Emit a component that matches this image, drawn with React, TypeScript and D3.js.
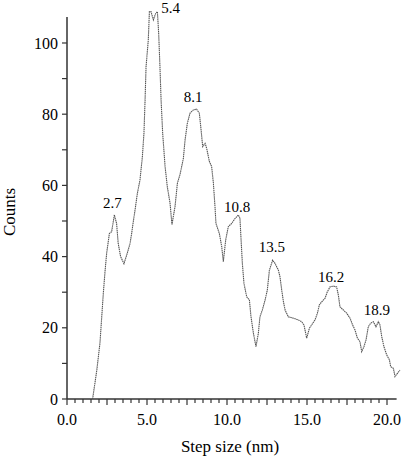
import React, { useEffect, useRef } from "react";
import * as d3 from "d3";

// step size histogram
const stepSize = [
  1.6, 1.86, 2.06, 2.17, 2.27, 2.38, 2.48, 2.65, 2.79, 2.96, 3.1, 3.2, 3.35, 3.56, 3.77, 3.94, 4.04, 4.15, 4.25,
  4.4, 4.56, 4.71, 4.81, 4.88, 4.94, 5.08, 5.15, 5.25, 5.4, 5.54, 5.65, 5.73, 5.81, 5.88, 5.98, 6.13, 6.27, 6.44,
  6.56, 6.75, 6.9, 7.06, 7.27, 7.38, 7.52, 7.69, 7.9, 8.1, 8.27, 8.38, 8.48, 8.63, 8.73, 8.9, 9.04, 9.15, 9.25,
  9.31, 9.52, 9.67, 9.77, 9.92, 10.08, 10.29, 10.5, 10.71, 10.81, 10.88, 10.96, 11.06, 11.23, 11.4, 11.5, 11.65,
  11.81, 11.96, 12.06, 12.21, 12.38, 12.52, 12.65, 12.85, 13.0, 13.21, 13.31, 13.42, 13.52, 13.63, 13.83, 14.15,
  14.46, 14.67, 14.81, 14.98, 15.15, 15.29, 15.5, 15.65, 15.77, 15.92, 16.13, 16.27, 16.44, 16.65, 16.85, 16.96,
  17.06, 17.27, 17.48, 17.69, 17.85, 18.0, 18.15, 18.31, 18.42, 18.56, 18.69, 18.83, 18.98, 19.15, 19.31, 19.46,
  19.56, 19.67, 19.81, 19.98, 20.15, 20.23, 20.4, 20.5, 20.65, 20.81,
];
const counts = [
  0, 8, 15.7, 23, 29.7, 36, 41, 46.5, 47, 51.7, 49.3, 43.7, 40, 38, 41, 43.7, 46.5, 50, 53,
  57.8, 61.5, 68, 74.7, 84, 93.3, 100.8, 108.8, 108.8, 106.5, 108.3, 108.8, 102.7, 93.3, 84, 74.6, 65.3, 59.6, 55,
  49, 54, 60.6, 63, 67.5, 72.8, 77.4, 80.3, 81.2, 81.4, 80.3, 75.6, 70.9, 71.8, 70.4, 66.7, 65.3, 60.6, 54,
  49.3, 46.5, 42.8, 38.6, 44.7, 48.4, 49.3, 50.7, 51.7, 50.7, 44.7, 38.1, 32.5, 28.7, 27.8, 23.1, 18.5,
  14.7, 18.5, 23.1, 25, 27.8, 30.6, 36.2, 39, 38.1, 36.2, 34.4, 30.6, 27.5, 25, 23.1, 22.7,
  22.2, 21.7, 20.8, 17.1, 19.9, 20.8, 22.2, 24.1, 26.4, 27.3, 28.3, 30.1, 31.5, 31.7, 31.5, 29.2,
  25.9, 25, 24.1, 22.7, 20.8, 19.4, 17.1, 16.1, 13.3, 14.7, 16.6, 20.3, 21.3, 21.7, 20.3, 21.7,
  20.8, 17.5, 14.7, 12.4, 11, 9.1, 8.6, 6.3, 7.2, 8.1,
];

// peak annotations (label text, anchor in data units)
const peakLabels = ["2.7", "5.4", "8.1", "10.8", "13.5", "16.2", "18.9"];
const peakLabelX = [2.84, 6.47, 7.88, 10.63, 12.8, 16.5, 19.36];
const peakLabelY = [53.7, 108.3, 83.4, 52.5, 41.3, 32.9, 23.6];

const yTicks = [0, 10, 20, 30, 40, 50, 60, 70, 80, 90, 100];
const yTickLabels = [0, 20, 40, 60, 80, 100];
const xTickLabels = [0, 5, 10, 15, 20];

export default function App() {
  const ref = useRef<SVGSVGElement>(null);

  useEffect(() => {
    const svg = d3.select(ref.current);
    svg.selectAll("*").remove();

    const font = "'Liberation Serif', 'Times New Roman', serif";
    const x = d3.scaleLinear().domain([0, 20.6]).range([67, 396.6]);
    const y = d3.scaleLinear().domain([0, 107.3]).range([399, 17]);

    const axisColor = "#333";

    // y axis
    const yAxis = svg.append("g");
    yAxis.append("line").attr("x1", x(0)).attr("x2", x(0)).attr("y1", y(0)).attr("y2", y(107.3))
      .attr("stroke", axisColor).attr("stroke-width", 1.5);
    yAxis.selectAll(".yt").data(yTicks).join("line").attr("class", "yt")
      .attr("x1", x(0) - 5).attr("x2", x(0)).attr("y1", d => y(d)).attr("y2", d => y(d))
      .attr("stroke", axisColor).attr("stroke-width", 1.2);
    yAxis.selectAll(".yl").data(yTickLabels).join("text").attr("class", "yl")
      .attr("x", x(0) - 9).attr("y", d => y(d)).attr("dy", "0.35em")
      .attr("text-anchor", "end").attr("font-family", font).attr("font-size", 16)
      .text(d => d);

    // x axis
    const xAxis = svg.append("g");
    xAxis.append("line").attr("x1", x(0)).attr("x2", x(20.6)).attr("y1", y(0)).attr("y2", y(0))
      .attr("stroke", axisColor).attr("stroke-width", 1.5);
    const xTicks = d3.range(0, 41).map(i => i * 0.5);
    xAxis.selectAll(".xt").data(xTicks).join("line").attr("class", "xt")
      .attr("x1", d => x(d)).attr("x2", d => x(d)).attr("y1", y(0))
      .attr("y2", d => y(0) + (d % 2.5 === 0 ? 6 : 4))
      .attr("stroke", axisColor).attr("stroke-width", 1.2);
    xAxis.selectAll(".xl").data(xTickLabels).join("text").attr("class", "xl")
      .attr("x", d => x(d)).attr("y", 425)
      .attr("text-anchor", "middle").attr("font-family", font).attr("font-size", 16)
      .text(d => d.toFixed(1));

    // axis titles
    svg.append("text").attr("x", 230).attr("y", 452).attr("text-anchor", "middle")
      .attr("font-family", font).attr("font-size", 17).text("Step size (nm)");
    svg.append("text").attr("transform", `translate(15, 212) rotate(-90)`).attr("text-anchor", "middle")
      .attr("font-family", font).attr("font-size", 17).text("Counts");

    // curve
    const pts = stepSize.map((s, i) => [s, counts[i]] as [number, number]);
    const line = d3.line<[number, number]>().x(d => x(d[0])).y(d => y(d[1]));
    svg.append("path").datum(pts).attr("d", line).attr("fill", "none")
      .attr("stroke", "#555").attr("stroke-width", 1.1).attr("stroke-dasharray", "1.5 0.6");

    // peak labels
    svg.selectAll(".pk").data(peakLabels).join("text").attr("class", "pk")
      .attr("x", (_, i) => x(peakLabelX[i])).attr("y", (_, i) => y(peakLabelY[i]))
      .attr("text-anchor", "middle").attr("font-family", font).attr("font-size", 15)
      .text(d => d);
  }, []);

  return (
    <svg ref={ref} width={403} height={460}
      style={{ position: "absolute", left: 0, top: 0, background: "#fff" }} />
  );
}
